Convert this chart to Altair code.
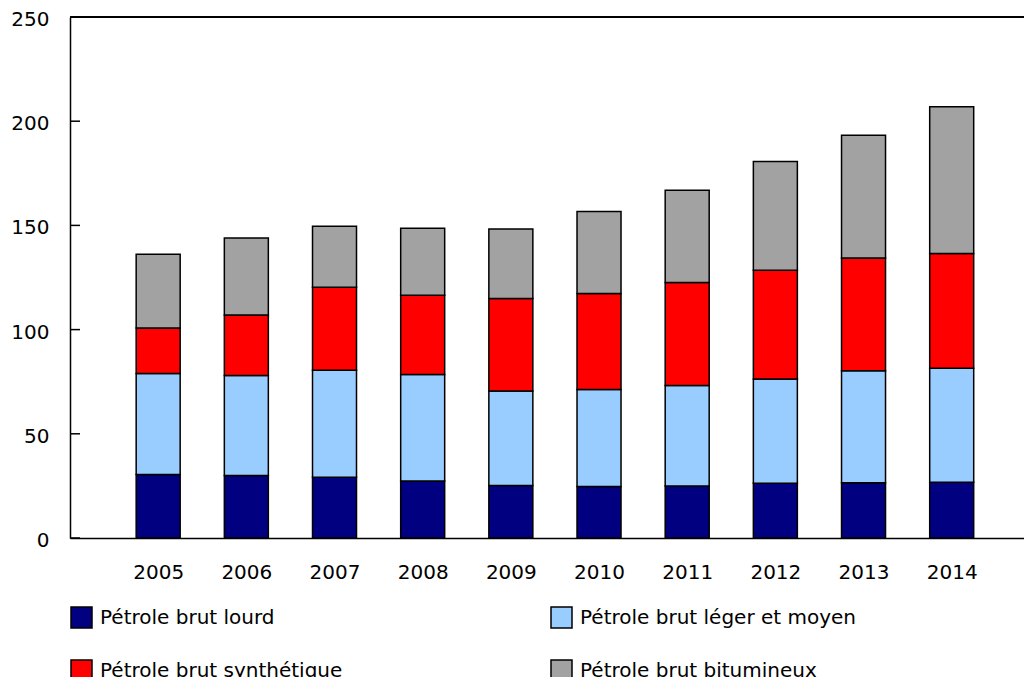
import altair as alt
import pandas as pd

years = [2005, 2006, 2007, 2008, 2009, 2010, 2011, 2012, 2013, 2014]
series_names = [
    "Pétrole brut lourd",
    "Pétrole brut léger et moyen",
    "Pétrole brut synthétique",
    "Pétrole brut bitumineux",
]
lourd = [30.5, 30.0, 29.2, 27.3, 25.2, 24.7, 24.9, 26.3, 26.5, 26.8]
leger = [48.4, 48.0, 51.3, 51.1, 45.3, 46.5, 48.3, 50.0, 53.8, 54.6]
synth = [21.9, 29.0, 39.8, 38.1, 44.4, 46.1, 49.4, 52.2, 54.1, 55.1]
bitum = [35.4, 37.0, 29.3, 32.1, 33.4, 39.4, 44.3, 52.2, 58.8, 70.4]
colors = ["#000080", "#99CCFF", "#FF0000", "#A2A2A2"]
y_ticks = [0, 50, 100, 150, 200, 250]

rows = []
for i, (name, vals) in enumerate(zip(series_names, [lourd, leger, synth, bitum])):
    for yr, v in zip(years, vals):
        rows.append({"annee": yr, "serie": name, "valeur": v, "ordre": i})
df = pd.DataFrame(rows)
tick_df = pd.DataFrame({"v": y_ticks})

FONT = "DejaVu Sans"
yscale = alt.Scale(domain=[0, 250], nice=False)

bars = alt.Chart(df).mark_bar(size=44, stroke="black", strokeWidth=1.5).encode(
    x=alt.X(
        "annee:Q",
        scale=alt.Scale(domain=[2004, 2014.82], nice=False, zero=False, padding=0),
        axis=alt.Axis(
            values=years, format="d", title=None, ticks=False, tickSize=0,
            labelPadding=24, grid=False, domainColor="black", domainWidth=1.5,
            labelFontSize=20, labelFont=FONT, labelColor="black",
        ),
    ),
    y=alt.Y(
        "valeur:Q", stack="zero", scale=yscale,
        axis=alt.Axis(
            values=y_ticks, title=None, ticks=False, tickSize=0, labelPadding=21,
            labelOffset=2.5, grid=False, domainColor="black", domainWidth=1.5,
            labelFontSize=20, labelFont=FONT, labelColor="black",
        ),
    ),
    color=alt.Color(
        "serie:N",
        scale=alt.Scale(domain=series_names, range=colors),
        legend=alt.Legend(
            title=None, orient="none", legendX=0, legendY=589, columns=2,
            direction="horizontal",
            symbolType="square", symbolSize=441, symbolStrokeColor="black",
            symbolStrokeWidth=1.5, symbolOpacity=1, labelFontSize=20, labelFont=FONT,
            labelColor="black", labelLimit=600, rowPadding=26, columnPadding=205,
            labelOffset=7, padding=0,
        ),
    ),
    order=alt.Order("ordre:Q", sort="ascending"),
)

ticks = alt.Chart(tick_df).mark_rule(color="black", strokeWidth=1.5).encode(
    y=alt.Y("v:Q", scale=yscale), x=alt.value(0), x2=alt.value(10)
)
top_line = alt.Chart(tick_df).mark_rule(color="black", strokeWidth=1.5).encode(
    y=alt.datum(250)
)

chart = (
    alt.layer(bars, ticks, top_line)
    .properties(
        width=954, height=521,
        autosize=alt.AutoSizeParams(type="none"),
        padding={"left": 62, "top": 9, "right": 0, "bottom": 139},
    )
    .configure_view(stroke=None)
)

chart.save("out.html", embed_options={"renderer": "svg", "actions": False})
